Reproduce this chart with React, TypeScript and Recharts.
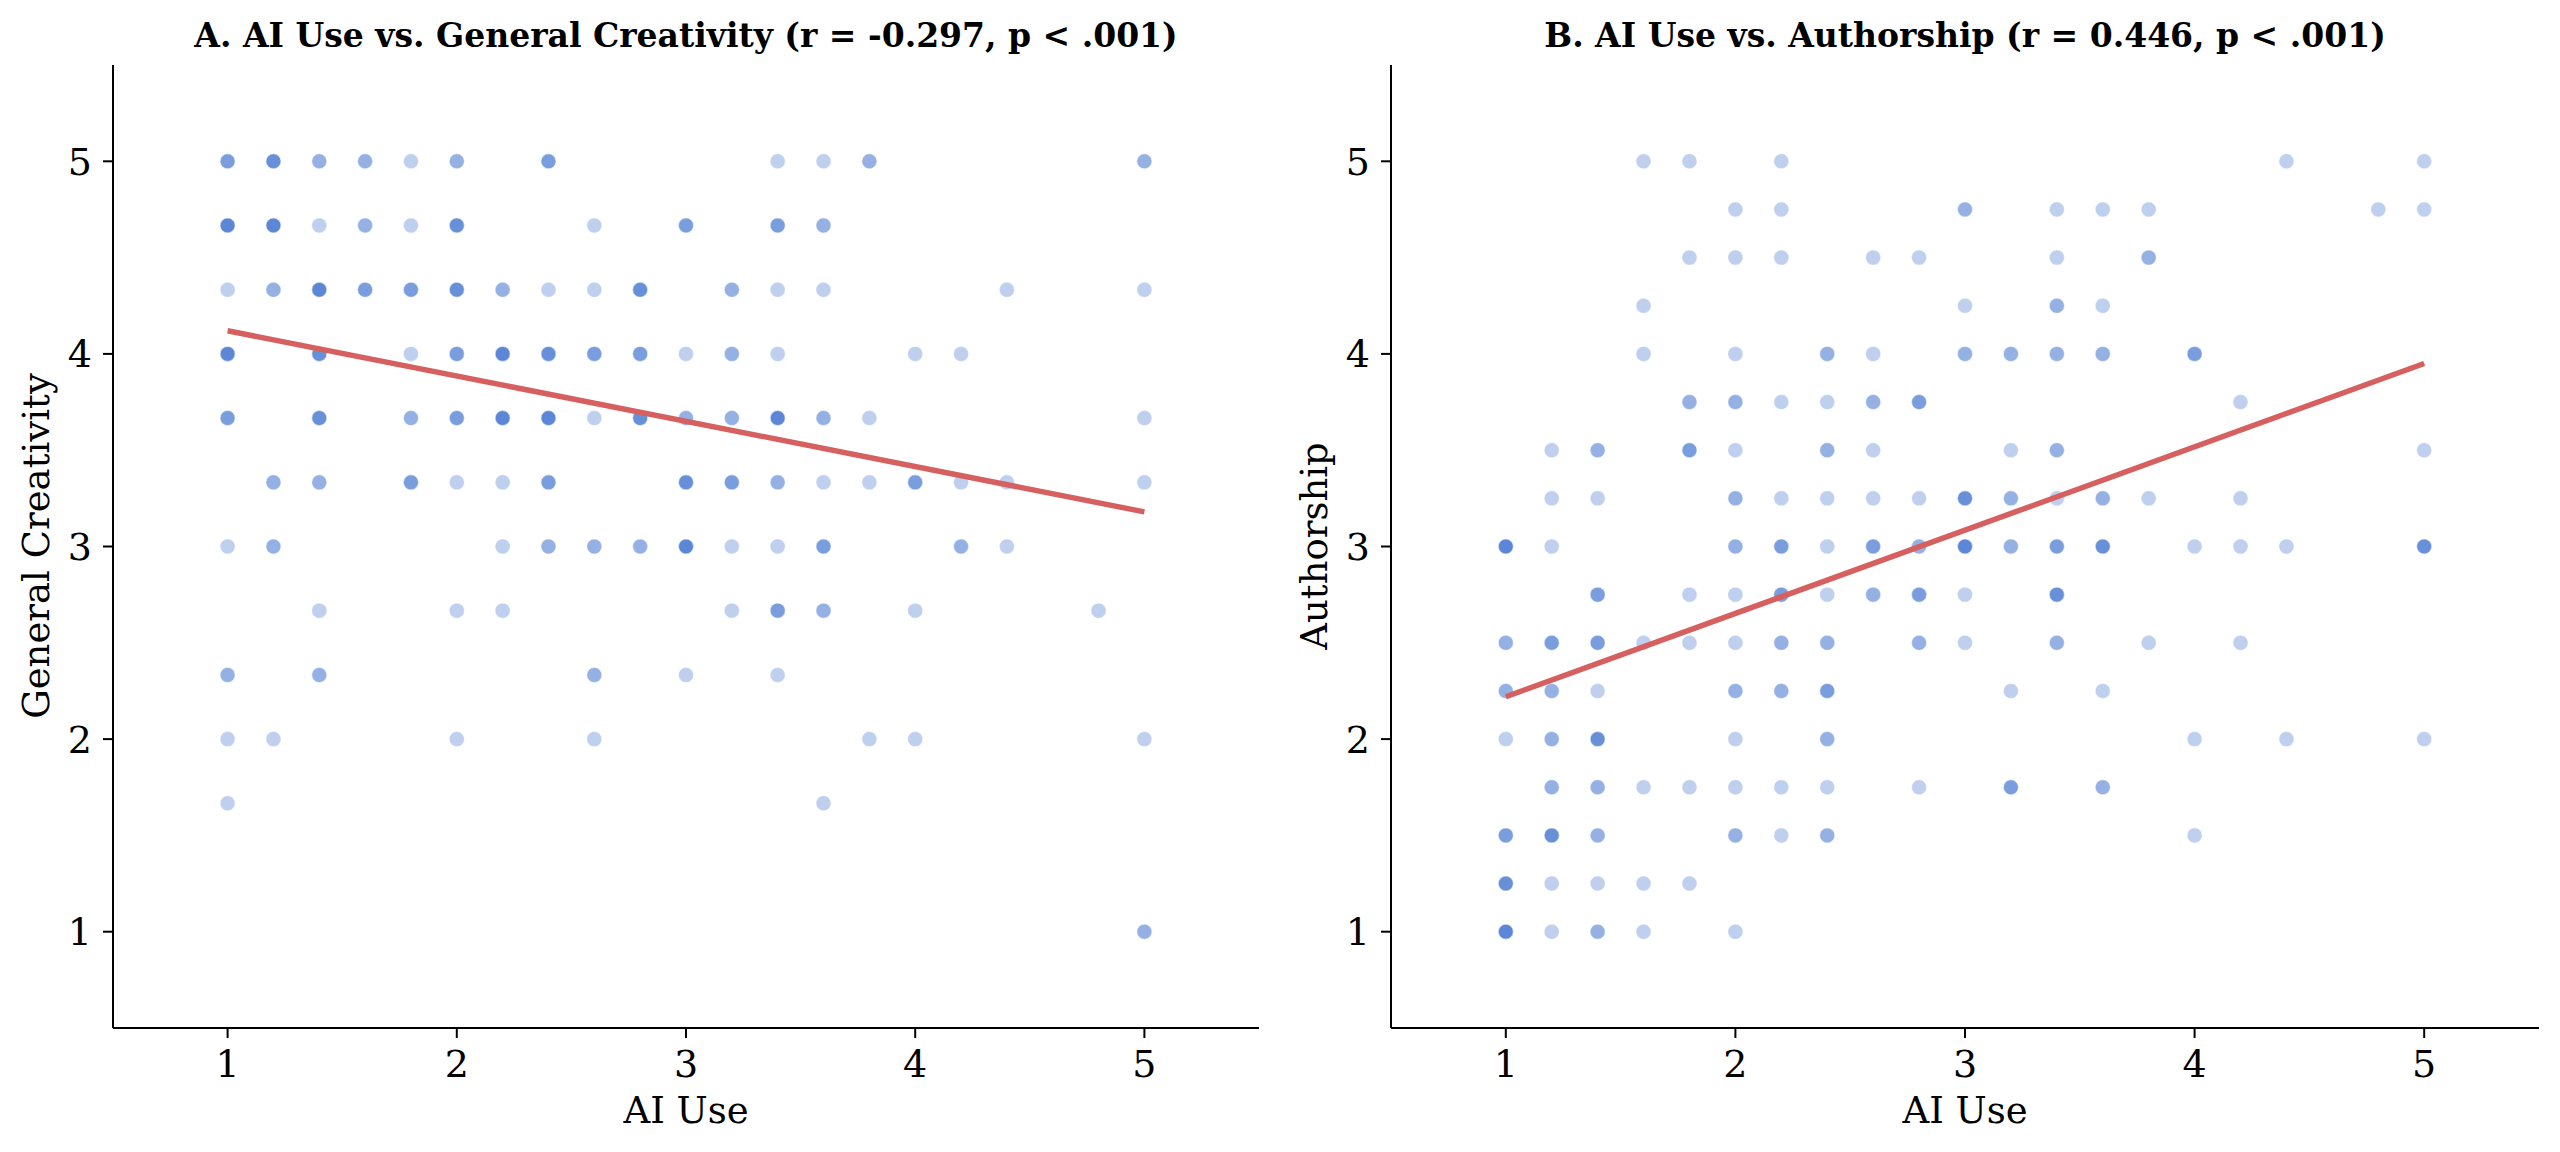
import React from 'react';
import { ScatterChart, Scatter, XAxis, YAxis } from 'recharts';

// [AI Use, score, number of overlapping respondents]
const creativityPoints: [number, number, number][] = [
  [1, 5, 3], [1.2, 5, 4], [1.4, 5, 2], [1.6, 5, 2], [1.8, 5, 1], [2, 5, 2], [2.4, 5, 3], [3.4, 5, 1], [3.6, 5, 1], [3.8, 5, 2], [5, 5, 2],
  [1, 4.667, 5], [1.2, 4.667, 5], [1.4, 4.667, 1], [1.6, 4.667, 2], [1.8, 4.667, 1], [2, 4.667, 4], [2.6, 4.667, 1], [3, 4.667, 3], [3.4, 4.667, 3], [3.6, 4.667, 2],
  [1, 4.333, 1], [1.2, 4.333, 2], [1.4, 4.333, 5], [1.6, 4.333, 3], [1.8, 4.333, 3], [2, 4.333, 4], [2.2, 4.333, 2], [2.4, 4.333, 1], [2.6, 4.333, 1], [2.8, 4.333, 4], [3.2, 4.333, 2], [3.4, 4.333, 1], [3.6, 4.333, 1], [4.4, 4.333, 1], [5, 4.333, 1],
  [1, 4, 5], [1.4, 4, 4], [1.8, 4, 1], [2, 4, 3], [2.2, 4, 5], [2.4, 4, 4], [2.6, 4, 3], [2.8, 4, 3], [3, 4, 1], [3.2, 4, 2], [3.4, 4, 1], [4, 4, 1], [4.2, 4, 1],
  [1, 3.667, 3], [1.4, 3.667, 4], [1.8, 3.667, 2], [2, 3.667, 3], [2.2, 3.667, 5], [2.4, 3.667, 5], [2.6, 3.667, 1], [2.8, 3.667, 4], [3, 3.667, 2], [3.2, 3.667, 2], [3.4, 3.667, 5], [3.6, 3.667, 2], [3.8, 3.667, 1], [5, 3.667, 1],
  [1.2, 3.333, 2], [1.4, 3.333, 2], [1.8, 3.333, 3], [2, 3.333, 1], [2.2, 3.333, 1], [2.4, 3.333, 3], [3, 3.333, 4], [3.2, 3.333, 3], [3.4, 3.333, 2], [3.6, 3.333, 1], [3.8, 3.333, 1], [4, 3.333, 3], [4.2, 3.333, 1], [4.4, 3.333, 1], [5, 3.333, 1],
  [1, 3, 1], [1.2, 3, 2], [2.2, 3, 1], [2.4, 3, 2], [2.6, 3, 2], [2.8, 3, 2], [3, 3, 5], [3.2, 3, 1], [3.4, 3, 1], [3.6, 3, 3], [4.2, 3, 2], [4.4, 3, 1],
  [1.4, 2.667, 1], [2, 2.667, 1], [2.2, 2.667, 1], [3.2, 2.667, 1], [3.4, 2.667, 3], [3.6, 2.667, 2], [4, 2.667, 1], [4.8, 2.667, 1],
  [1, 2.333, 2], [1.4, 2.333, 2], [2.6, 2.333, 2], [3, 2.333, 1], [3.4, 2.333, 1],
  [1, 2, 1], [1.2, 2, 1], [2, 2, 1], [2.6, 2, 1], [3.8, 2, 1], [4, 2, 1], [5, 2, 1],
  [1, 1.667, 1], [3.6, 1.667, 1],
  [5, 1, 2],
];

const authorshipPoints: [number, number, number][] = [
  [1.6, 5, 1], [1.8, 5, 1], [2.2, 5, 1], [4.4, 5, 1], [5, 5, 1],
  [2, 4.75, 1], [2.2, 4.75, 1], [3, 4.75, 2], [3.4, 4.75, 1], [3.6, 4.75, 1], [3.8, 4.75, 1], [4.8, 4.75, 1], [5, 4.75, 1],
  [1.8, 4.5, 1], [2, 4.5, 1], [2.2, 4.5, 1], [2.6, 4.5, 1], [2.8, 4.5, 1], [3.4, 4.5, 1], [3.8, 4.5, 2],
  [1.6, 4.25, 1], [3, 4.25, 1], [3.4, 4.25, 2], [3.6, 4.25, 1],
  [1.6, 4, 1], [2, 4, 1], [2.4, 4, 2], [2.6, 4, 1], [3, 4, 2], [3.2, 4, 2], [3.4, 4, 2], [3.6, 4, 2], [4, 4, 3],
  [1.8, 3.75, 2], [2, 3.75, 2], [2.2, 3.75, 1], [2.4, 3.75, 1], [2.6, 3.75, 2], [2.8, 3.75, 3], [4.2, 3.75, 1],
  [1.2, 3.5, 1], [1.4, 3.5, 2], [1.8, 3.5, 3], [2, 3.5, 1], [2.4, 3.5, 2], [2.6, 3.5, 1], [3.2, 3.5, 1], [3.4, 3.5, 2], [5, 3.5, 1],
  [1.2, 3.25, 1], [1.4, 3.25, 1], [2, 3.25, 2], [2.2, 3.25, 1], [2.4, 3.25, 1], [2.6, 3.25, 1], [2.8, 3.25, 1], [3, 3.25, 4], [3.2, 3.25, 2], [3.4, 3.25, 1], [3.6, 3.25, 2], [3.8, 3.25, 1], [4.2, 3.25, 1],
  [1, 3, 5], [1.2, 3, 1], [2, 3, 2], [2.2, 3, 3], [2.4, 3, 1], [2.6, 3, 3], [2.8, 3, 2], [3, 3, 5], [3.2, 3, 2], [3.4, 3, 3], [3.6, 3, 4], [4, 3, 1], [4.2, 3, 1], [4.4, 3, 1], [5, 3, 4],
  [1.4, 2.75, 3], [1.8, 2.75, 1], [2, 2.75, 1], [2.2, 2.75, 3], [2.4, 2.75, 1], [2.6, 2.75, 2], [2.8, 2.75, 3], [3, 2.75, 1], [3.4, 2.75, 4],
  [1, 2.5, 2], [1.2, 2.5, 3], [1.4, 2.5, 3], [1.6, 2.5, 1], [1.8, 2.5, 1], [2, 2.5, 1], [2.2, 2.5, 2], [2.4, 2.5, 2], [2.8, 2.5, 2], [3, 2.5, 1], [3.4, 2.5, 2], [3.8, 2.5, 1], [4.2, 2.5, 1],
  [1, 2.25, 2], [1.2, 2.25, 2], [1.4, 2.25, 1], [2, 2.25, 2], [2.2, 2.25, 2], [2.4, 2.25, 3], [3.2, 2.25, 1], [3.6, 2.25, 1],
  [1, 2, 1], [1.2, 2, 2], [1.4, 2, 4], [2, 2, 1], [2.4, 2, 2], [4, 2, 1], [4.4, 2, 1], [5, 2, 1],
  [1.2, 1.75, 2], [1.4, 1.75, 2], [1.6, 1.75, 1], [1.8, 1.75, 1], [2, 1.75, 1], [2.2, 1.75, 1], [2.4, 1.75, 1], [2.8, 1.75, 1], [3.2, 1.75, 3], [3.6, 1.75, 2],
  [1, 1.5, 3], [1.2, 1.5, 4], [1.4, 1.5, 2], [2, 1.5, 2], [2.2, 1.5, 1], [2.4, 1.5, 2], [4, 1.5, 1],
  [1, 1.25, 4], [1.2, 1.25, 1], [1.4, 1.25, 1], [1.6, 1.25, 1], [1.8, 1.25, 1],
  [1, 1, 5], [1.2, 1, 1], [1.4, 1, 2], [1.6, 1, 1], [2, 1, 1],
];

// regression line end points
const creativityFit = [{ x: 1, y: 4.12 }, { x: 5, y: 3.18 }];
const authorshipFit = [{ x: 1, y: 2.22 }, { x: 5, y: 3.95 }];

const axisTicks = [1, 2, 3, 4, 5];

const titleA = 'A. AI Use vs. General Creativity (r = -0.297, p < .001)';
const titleB = 'B. AI Use vs. Authorship (r = 0.446, p < .001)';
const xLabel = 'AI Use';
const yLabelA = 'General Creativity';
const yLabelB = 'Authorship';

const DOT = '#4878d0';
const LINE = '#d65f5f';
const FONT = '"DejaVu Serif", serif';

const expand = (pts: [number, number, number][]) =>
  pts.flatMap(([x, y, n]) => Array.from({ length: n }, () => ({ x, y })));

const Dot = (props: any) => (
  <circle
    cx={props.cx}
    cy={props.cy}
    r={7.5}
    fill={DOT}
    fillOpacity={0.35}
    stroke="#ffffff"
    strokeOpacity={0.35}
    strokeWidth={1}
  />
);

const NoDot = () => <g />;

const tickStyle = { fontFamily: FONT, fontSize: 38, fill: '#000' };
const axisStroke = { stroke: '#000', strokeWidth: 2 };

const Y_AXIS_W = 80;
const X_AXIS_H = 80;

function Panel({ points, fit, left }: { points: [number, number, number][]; fit: { x: number; y: number }[]; left: number }) {
  const data = expand(points);
  return (
    <ScatterChart
      width={1280}
      height={1152}
      margin={{ top: 65, right: 21, bottom: 124 - X_AXIS_H, left: left - Y_AXIS_W }}
    >
      <XAxis
        type="number"
        dataKey="x"
        domain={[0.5, 5.5]}
        ticks={axisTicks}
        height={X_AXIS_H}
        tick={tickStyle}
        tickSize={10}
        tickMargin={12}
        axisLine={axisStroke}
        tickLine={axisStroke}
        allowDataOverflow
      />
      <YAxis
        type="number"
        dataKey="y"
        domain={[0.5, 5.5]}
        ticks={axisTicks}
        width={Y_AXIS_W}
        tick={tickStyle}
        tickSize={10}
        tickMargin={11}
        axisLine={axisStroke}
        tickLine={axisStroke}
        allowDataOverflow
      />
      <Scatter data={data} shape={Dot} isAnimationActive={false} />
      <Scatter
        data={fit}
        shape={NoDot}
        line={{ stroke: LINE, strokeWidth: 5.5 }}
        lineType="joint"
        isAnimationActive={false}
      />
    </ScatterChart>
  );
}

export default function App() {
  return (
    <div style={{ position: 'absolute', left: 0, top: 0, width: 2560, height: 1152, background: '#fff' }}>
      <div style={{ position: 'absolute', left: 0, top: 0 }}>
        <Panel points={creativityPoints} fit={creativityFit} left={113} />
      </div>
      <div style={{ position: 'absolute', left: 1280, top: 0 }}>
        <Panel points={authorshipPoints} fit={authorshipFit} left={111} />
      </div>
      <svg
        width={2560}
        height={1152}
        style={{ position: 'absolute', left: 0, top: 0, pointerEvents: 'none' }}
      >
        <g fontFamily={FONT} fill="#000">
          <text x={686} y={47} fontSize={33} fontWeight="bold" textAnchor="middle">{titleA}</text>
          <text x={1965} y={47} fontSize={33} fontWeight="bold" textAnchor="middle">{titleB}</text>
          <text x={686} y={1123} fontSize={37} textAnchor="middle">{xLabel}</text>
          <text x={1965} y={1123} fontSize={37} textAnchor="middle">{xLabel}</text>
          <text x={49} y={546} fontSize={37} textAnchor="middle" transform="rotate(-90 49 546)">{yLabelA}</text>
          <text x={1327} y={546} fontSize={37} textAnchor="middle" transform="rotate(-90 1327 546)">{yLabelB}</text>
        </g>
      </svg>
    </div>
  );
}
